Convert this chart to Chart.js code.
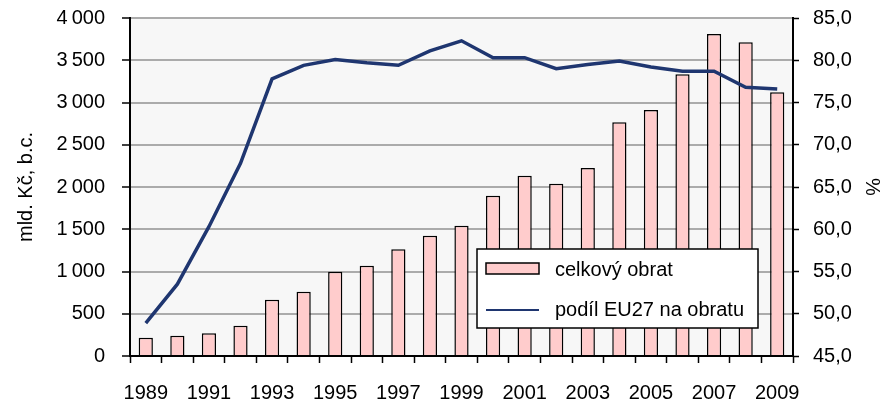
<!DOCTYPE html>
<html>
<head>
<meta charset="utf-8">
<script src="https://cdn.jsdelivr.net/npm/chart.js@4"></script>
<style>
  html, body { margin: 0; padding: 0; background: #fff; }
  canvas { display: block; }
</style>
</head>
<body>
<canvas id="graf" width="886" height="402"></canvas>
<script>
// data
const roky = ["1989","1990","1991","1992","1993","1994","1995","1996","1997","1998","1999",
              "2000","2001","2002","2003","2004","2005","2006","2007","2008","2009"];
const obrat = [217, 240, 268, 359, 667, 761, 998, 1069, 1262, 1424, 1542,
               1897, 2134, 2039, 2225, 2765, 2911, 3333, 3811, 3712, 3120];
const podilEU = [48.9, 53.5, 60.3, 67.8, 77.8, 79.4, 80.1, 79.7, 79.4, 81.1, 82.3,
                 80.3, 80.3, 79.0, 79.5, 79.9, 79.2, 78.7, 78.7, 76.8, 76.6];

const COR_BARRA = "#ffcccc";
const COR_LINHA = "#1f3670";
const COR_GRADE = "#ababab";
const FONTE = "'Liberation Sans', Arial, sans-serif";

Chart.defaults.font.family = FONTE;
Chart.defaults.font.size = 20;
Chart.defaults.color = "#000";

// light plot background
const fundo = {
    id: "fundo",
    beforeDraw(chart) {
        const a = chart.chartArea;
        const ctx = chart.ctx;
        ctx.save();
        ctx.fillStyle = "#f7f7f7";
        ctx.fillRect(a.left, a.top, a.right - a.left, a.bottom - a.top);
        ctx.restore();
    }
};

// boxed legend inside the plot
const legenda = {
    id: "legenda",
    afterDraw(chart) {
        const ctx = chart.ctx;
        const ds = chart.data.datasets;
        const x = 477, y = 249, w = 281, h = 79;
        ctx.save();
        ctx.fillStyle = "#fff";
        ctx.fillRect(x, y, w, h);
        ctx.lineWidth = 1.5;
        ctx.strokeStyle = "#000";
        ctx.strokeRect(x, y, w, h);

        // bar swatch
        ctx.fillStyle = ds[0].backgroundColor;
        ctx.fillRect(x + 9, y + 14, 53, 11);
        ctx.strokeRect(x + 9, y + 14, 53, 11);

        // line swatch
        ctx.strokeStyle = ds[1].borderColor;
        ctx.lineWidth = 2;
        ctx.beginPath();
        ctx.moveTo(x + 9, y + 61);
        ctx.lineTo(x + 62, y + 61);
        ctx.stroke();

        ctx.fillStyle = "#000";
        ctx.font = "20px " + FONTE;
        ctx.textBaseline = "middle";
        ctx.fillText(ds[0].label, x + 78, y + 21);
        ctx.fillText(ds[1].label, x + 78, y + 61);
        ctx.restore();
    }
};

const fmtMil = v => {
    const s = String(v);
    return s.length > 3 ? s.slice(0, -3) + "\u2009" + s.slice(-3) : s;
};

// fixed axis sizes so the plot area sits where the reference has it
const fixarVertical = w => s => {
    s.width = w;
    s.paddingTop = 0;
    s.paddingBottom = 0;
};

new Chart(document.getElementById("graf"), {
    data: {
        labels: roky,
        datasets: [
            {
                type: "bar",
                label: "celkový obrat",
                data: obrat,
                backgroundColor: COR_BARRA,
                borderColor: "#000",
                borderWidth: 1.5,
                barPercentage: 0.45,
                categoryPercentage: 1,
                yAxisID: "y",
                order: 1
            },
            {
                type: "line",
                label: "podíl EU27 na obratu",
                data: podilEU,
                borderColor: COR_LINHA,
                borderWidth: 3.5,
                pointRadius: 0,
                tension: 0,
                yAxisID: "y1",
                order: 0
            }
        ]
    },
    options: {
        responsive: false,
        animation: false,
        events: [],
        layout: { padding: { top: 18, left: 0, right: 0, bottom: 0 } },
        plugins: {
            legend: { display: false },
            tooltip: { enabled: false }
        },
        scales: {
            x: {
                type: "category",
                offset: true,
                grid: {
                    offset: true,
                    drawOnChartArea: false,
                    tickLength: 7,
                    tickColor: "#000",
                    tickWidth: 1.5
                },
                border: { color: "#000", width: 2 },
                ticks: {
                    autoSkip: false,
                    maxRotation: 0,
                    padding: 18,
                    callback: (v, i) => (i % 2 === 0 ? roky[i] : "")
                },
                afterFit: s => {
                    s.height = 46;
                    s.paddingLeft = 0;
                    s.paddingRight = 0;
                }
            },
            y: {
                position: "left",
                min: 0,
                max: 4000,
                ticks: { stepSize: 500, padding: 17, callback: v => fmtMil(v) },
                grid: {
                    color: COR_GRADE,
                    lineWidth: 2,
                    tickColor: "#000",
                    tickWidth: 1.5,
                    tickLength: 8
                },
                border: { color: "#000", width: 2 },
                title: {
                    display: true,
                    text: "mld. Kč, b.c.",
                    padding: { top: 14, bottom: 0 }
                },
                afterFit: fixarVertical(130)
            },
            y1: {
                position: "right",
                min: 45,
                max: 85,
                ticks: {
                    stepSize: 5,
                    padding: 14,
                    callback: v => v.toFixed(1).replace(".", ",")
                },
                grid: {
                    drawOnChartArea: false,
                    tickColor: "#000",
                    tickWidth: 1.5,
                    tickLength: 6
                },
                border: { color: "#000", width: 2 },
                title: {
                    display: true,
                    text: "%",
                    padding: { top: 2, bottom: 0 }
                },
                afterFit: fixarVertical(93)
            }
        }
    },
    plugins: [fundo, legenda]
});
</script>
</body>
</html>
